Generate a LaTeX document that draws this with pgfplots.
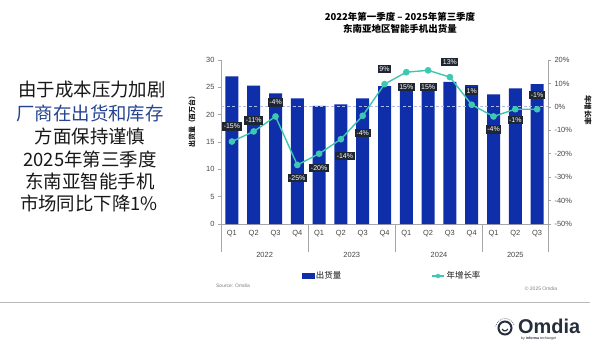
\documentclass[border=0pt]{standalone}
\usepackage{pgfplots}
\usepackage{pgfplotstable}
\pgfplotsset{compat=1.18}
\usepackage{fontspec}
\setmainfont{Liberation Sans}
\newfontfamily\cjk{Noto Sans CJK SC}
\definecolor{barblue}{RGB}{14,46,170}
\definecolor{linec}{RGB}{62,200,178}
\definecolor{labbg}{RGB}{30,38,52}
\definecolor{tickc}{RGB}{70,70,70}
\definecolor{txtblue}{RGB}{38,68,145}
\definecolor{txtdark}{RGB}{24,24,24}
\definecolor{logoc}{RGB}{38,46,60}
\definecolor{zeroc}{RGB}{175,188,226}

\pgfplotstableread{
x v
0 27.0
1 25.3
2 23.9
3 23.0
4 21.6
5 21.9
6 23.0
7 25.2
8 24.8
9 25.2
10 26.0
11 25.4
12 23.7
13 24.8
14 25.6
}\shipments

\pgfplotstableread{
x g lab yo xo
0 -14.8 -15 15 0
1 -10.5 -11 11 0
2 -4.1 -4 14 0
3 -24.8 -25 -13 0
4 -20 -20 -14 0
5 -13.8 -14 -17 4
6 -3.8 -4 -17 0
7 9.7 9 15 0
8 14.8 15 -15 0
9 15.6 15 -17 0
10 12.7 13 15 0
11 0.9 1 14 0
12 -4.1 -4 -13 0
13 -1 -1 -11 0
14 -1 -1 14 0
}\growth

\begin{document}
\begin{tikzpicture}[x=1bp,y=1bp]
\fill[white] (0,0) rectangle (602,341);
\useasboundingbox (0,0) rectangle (602,341);

% left text panel
\begin{scope}[every node/.style={font=\cjk\fontsize{18.5}{22}\selectfont, anchor=center, inner sep=0pt}]
\node[text=txtdark] at (92,251) {由于成本压力加剧};
\node[text=txtblue] at (90,228) {厂商在出货和库存};
\node[text=txtdark] at (90,205) {方面保持谨慎};
\node[text=txtdark] at (90,182) {2025年第三季度};
\node[text=txtdark] at (90,159.5) {东南亚智能手机};
\node[text=txtdark] at (89,138) {市场同比下降1\%};
\end{scope}

% title
\node[font=\cjk\bfseries\fontsize{9.5}{11}\selectfont, text=black] at (400,324) {2022年第一季度 – 2025年第三季度};
\node[font=\cjk\bfseries\fontsize{9.5}{11}\selectfont, text=black] at (400,312) {东南亚地区智能手机出货量};

% axis labels
\node[font=\cjk\bfseries\fontsize{7}{8}\selectfont, rotate=90, text=txtdark] at (192,221) {出货量（百万台）};
\node[font=\cjk\bfseries\fontsize{7.5}{8}\selectfont, rotate=-90, text=txtdark] at (588,231) {年增长率};

\begin{axis}[
  at={(221bp,117bp)}, anchor=south west,
  scale only axis, width=327bp, height=164bp,
  xmin=-0.5, xmax=14.5, ymin=0, ymax=30,
  ybar, bar width=13bp,
  axis y line*=left, axis x line*=bottom,
  axis line style={draw=gray!70, line width=0.6bp},
  ytick={0,5,...,30},
  xtick={0,...,14},
  xticklabels={Q1,Q2,Q3,Q4,Q1,Q2,Q3,Q4,Q1,Q2,Q3,Q4,Q1,Q2,Q3},
  xtick style={draw=none},
  ytick style={draw=gray!70, line width=0.6bp},
  major tick length=3bp, tick align=outside,
  ticklabel style={font=\fontsize{7.5}{9}\selectfont, text=tickc},
  /pgf/number format/assume math mode=true,
  clip=false,
]
\addplot[fill=barblue, draw=none] table[x=x,y=v] {\shipments};
\pgfplotsinvokeforeach{-0.5,3.5,7.5,11.5,14.5}{
  \draw[gray!70, line width=0.6bp] (axis cs:#1,0) -- ++(0bp,-28bp);
}
\node[font=\fontsize{7.5}{9}\selectfont, text=tickc] at (axis cs:1.5,0) [yshift=-31bp] {2022};
\node[font=\fontsize{7.5}{9}\selectfont, text=tickc] at (axis cs:5.5,0) [yshift=-31bp] {2023};
\node[font=\fontsize{7.5}{9}\selectfont, text=tickc] at (axis cs:9.5,0) [yshift=-31bp] {2024};
\node[font=\fontsize{7.5}{9}\selectfont, text=tickc] at (axis cs:13,0) [yshift=-31bp] {2025};
\end{axis}

\begin{axis}[
  at={(221bp,117bp)}, anchor=south west,
  scale only axis, width=327bp, height=164bp,
  xmin=-0.5, xmax=14.5, ymin=-50, ymax=20,
  axis y line*=right, axis x line=none,
  axis line style={draw=gray!70, line width=0.6bp},
  ytick={-50,-40,...,20},
  yticklabels={-50\%,-40\%,-30\%,-20\%,-10\%,0\%,10\%,20\%},
  ytick style={draw=gray!70, line width=0.6bp},
  major tick length=3bp, tick align=outside,
  ticklabel style={font=\fontsize{7.5}{9}\selectfont, text=tickc},
  /pgf/number format/assume math mode=true,
  clip=false,
  legend columns=2,
  legend style={at={(0.523,-0.317)}, anchor=center, draw=none, fill=none,
    font=\cjk\fontsize{8.5}{9}\selectfont, text=txtdark,
    /tikz/every even column/.append style={column sep=88bp}},
]
\addlegendimage{legend image code/.code={\fill[barblue] (0bp,-2.5bp) rectangle (12bp,2.5bp);}}
\addlegendimage{legend image code/.code={\draw[linec, line width=1.2bp] (0bp,0bp) -- (12bp,0bp); \fill[linec] (6bp,0bp) circle (2bp);}}
\addplot[draw=zeroc, dash pattern=on 3bp off 2.5bp, line width=0.8bp, forget plot] coordinates {(-0.5,0) (14.5,0)};
\addplot[linec, line width=1.4bp, mark=*, mark size=2.6bp, mark options={fill=linec, draw=linec}, forget plot] table[x=x,y=g] {\growth};
\addplot[draw=none, mark=none, forget plot,
  point meta=explicit symbolic,
  visualization depends on={\thisrow{yo} \as \labyo},
  visualization depends on={\thisrow{xo} \as \labxo},
  nodes near coords={\pgfplotspointmeta\%},
  every node near coord/.append style={anchor=center, yshift=\labyo bp, xshift=\labxo bp,
    fill=labbg, text=white, inner sep=1.6bp, font=\fontsize{7}{8}\selectfont},
] table[x=x,y=g,meta=lab] {\growth};
\legend{出货量,年增长率}
\end{axis}

% source & copyright
\node[font=\fontsize{5}{6}\selectfont, text=gray] at (233,55) {Source: Omdia};
\node[font=\fontsize{5}{6}\selectfont, text=gray] at (541,52) {\textcopyright\ 2025 Omdia};
\draw[gray!55, line width=0.8bp] (0,39) -- (590,39);

% logo
\draw[logoc, line width=2bp] (505,13) circle (6.5bp);
\draw[logoc, line width=1.2bp] (505,13) ++(200:3bp) arc (200:340:3bp);
\draw[logoc!60, line width=0.8bp, dash pattern=on 1bp off 1bp] (505,13) ++(20:9.5bp) arc (20:170:9.5bp);
\node[font=\bfseries\fontsize{20}{21}\selectfont, text=logoc, anchor=base west, inner sep=0pt] at (518,7.5) {Omdia};
\node[font=\fontsize{3.6}{4}\selectfont, text=logoc, anchor=base west, inner sep=0pt] at (521,1.2) {by \textbf{informa} techtarget};
\end{tikzpicture}
\end{document}
